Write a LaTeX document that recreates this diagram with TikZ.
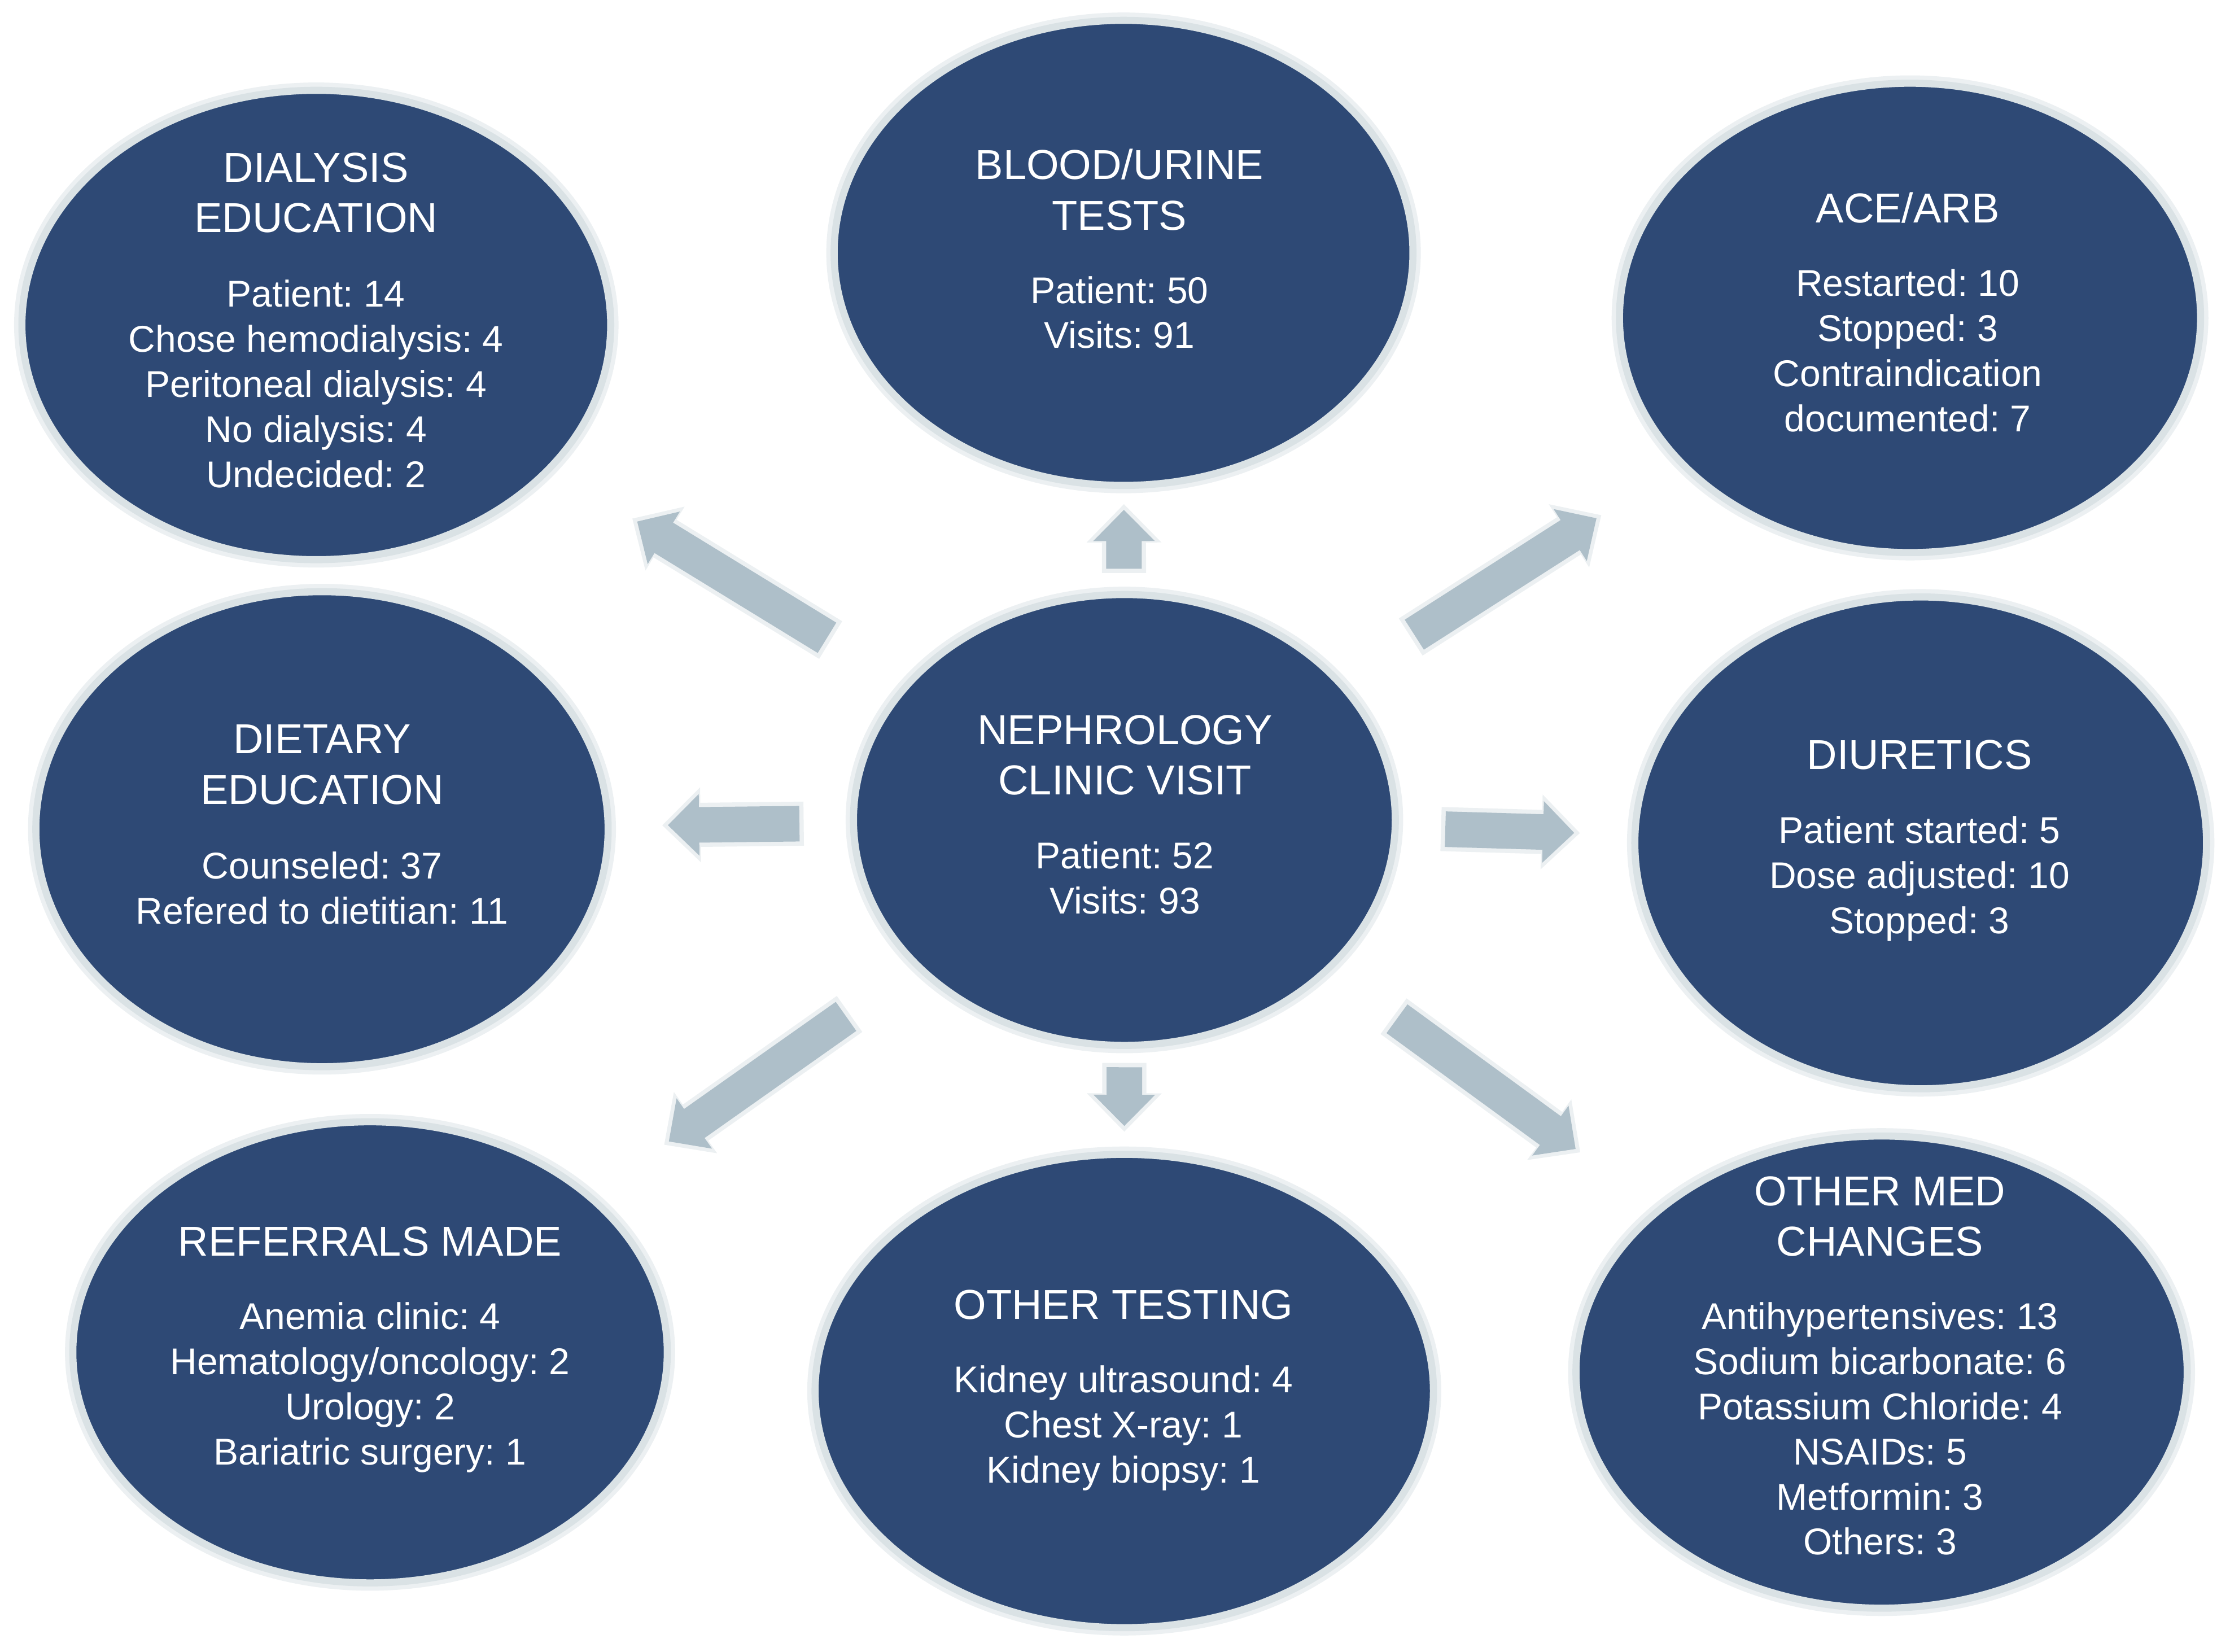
\documentclass[tikz,border=0pt]{standalone}
\usepackage{fontspec}
\setmainfont{Liberation Sans}
\usetikzlibrary{calc,arrows.meta,shapes.geometric}
\frenchspacing
\definecolor{navy}{RGB}{46,73,117}
\definecolor{ringc}{RGB}{218,226,229}
\definecolor{glowc}{RGB}{236,240,242}
\definecolor{arrowc}{RGB}{174,191,201}
\tikzset{
  bubble/.style={ellipse, inner sep=0pt, fill=navy, draw=ringc, line width=5pt,
    preaction={draw=glowc, line width=11pt}},
  ttl/.style={font=\fontsize{29.4}{35.5}\selectfont, text=white, align=center, inner sep=0pt, anchor=north},
  bdy/.style={font=\fontsize{26.2}{31.7}\selectfont, text=white, align=center, inner sep=0pt, anchor=north},
  arr/.style={line width=25pt, draw=arrowc, -{Triangle[width=42pt,length=22pt]}},
  arrhalo/.style={line width=31pt, draw=glowc, -{Triangle[width=51pt,length=27pt]}, shorten >=-4pt, shorten <=-3pt}
}
\newcommand\spoke[3]{%
  \draw[arrhalo] ($(ctr)!#2!(#1)$) -- ($(ctr)!#3!(#1)$);
  \draw[arr] ($(ctr)!#2!(#1)$) -- ($(ctr)!#3!(#1)$);}
\begin{document}
\begin{tikzpicture}[x=1pt,y=-1pt]
\useasboundingbox[fill=white] (0,0) rectangle (1568,1161.5);
% ellipses
\node[bubble, minimum width=414pt, minimum height=330pt] (dia) at (222.4,228.5) {};
\node[bubble, minimum width=407pt, minimum height=327pt] (blood) at (790,177.8) {};
\node[bubble, minimum width=408.6pt, minimum height=330pt] (ace) at (1343,223.5) {};
\node[bubble, minimum width=402.4pt, minimum height=334pt] (diet) at (226.4,583) {};
\node[bubble, minimum width=381pt, minimum height=317pt] (ctr) at (790.6,576.5) {};
\node[bubble, minimum width=402pt, minimum height=345.8pt] (diu) at (1350.5,592.6) {};
\node[bubble, minimum width=418pt, minimum height=324.2pt] (ref) at (260.2,950.8) {};
\node[bubble, minimum width=434.8pt, minimum height=332.8pt] (test) at (790.5,978) {};
\node[bubble, minimum width=429.8pt, minimum height=332pt] (med) at (1323,964.7) {};
% arrows
\spoke{dia}{0.368}{0.603}
\spoke{blood}{0.443}{0.547}
\spoke{ace}{0.369}{0.601}
\spoke{diet}{0.405}{0.569}
\spoke{diu}{0.403}{0.565}
\spoke{ref}{0.369}{0.604}
\spoke{test}{0.433}{0.536}
\spoke{med}{0.360}{0.596}
% texts
\node[ttl] (diaT) at (222.2,{127.8-24.85}) {\strut DIALYSIS\\EDUCATION};
\node[bdy] (diaB) at (222.2,{215.6-22.19}) {\strut Patient: 14\\Chose hemodialysis: 4\\Peritoneal dialysis: 4\\No dialysis: 4\\Undecided: 2};
\node[ttl] (bloodT) at (787.1,{125.9-24.85}) {\strut BLOOD/URINE\\TESTS};
\node[bdy] (bloodB) at (787.1,{213-22.19}) {\strut Patient: 50\\Visits: 91};
\node[ttl] (aceT) at (1341.4,{156.3-24.85}) {\strut ACE/ARB};
\node[bdy] (aceB) at (1341.4,{208.1-22.19}) {\strut Restarted: 10\\Stopped: 3\\Contraindication\\documented: 7};
\node[ttl] (dietT) at (226.5,{529.6-24.85}) {\strut DIETARY\\EDUCATION};
\node[bdy] (dietB) at (226.5,{617.8-22.19}) {\strut Counseled: 37\\Refered to dietitian: 11};
\node[ttl] (ctrT) at (791,{523-24.85}) {\strut NEPHROLOGY\\CLINIC VISIT};
\node[bdy] (ctrB) at (791,{610.4-22.19}) {\strut Patient: 52\\Visits: 93};
\node[ttl] (diuT) at (1349.7,{540.7-24.85}) {\strut DIURETICS};
\node[bdy] (diuB) at (1349.7,{592.7-22.19}) {\strut Patient started: 5\\Dose adjusted: 10\\Stopped: 3};
\node[ttl] (refT) at (260.2,{882.7-24.85}) {\strut REFERRALS MADE};
\node[bdy] (refB) at (260.2,{934.5-22.19}) {\strut Anemia clinic: 4\\Hematology/oncology: 2\\Urology: 2\\Bariatric surgery: 1};
\node[ttl] (testT) at (789.9,{927.1-24.85}) {\strut OTHER TESTING};
\node[bdy] (testB) at (789.9,{978.9-22.19}) {\strut Kidney ultrasound: 4\\Chest X-ray: 1\\Kidney biopsy: 1};
\node[ttl] (medT) at (1321.9,{847.5-24.85}) {\strut OTHER MED\\CHANGES};
\node[bdy] (medB) at (1321.9,{934.5-22.19}) {\strut Antihypertensives: 13\\Sodium bicarbonate: 6\\Potassium Chloride: 4\\NSAIDs: 5\\Metformin: 3\\Others: 3};
\end{tikzpicture}
\end{document}
